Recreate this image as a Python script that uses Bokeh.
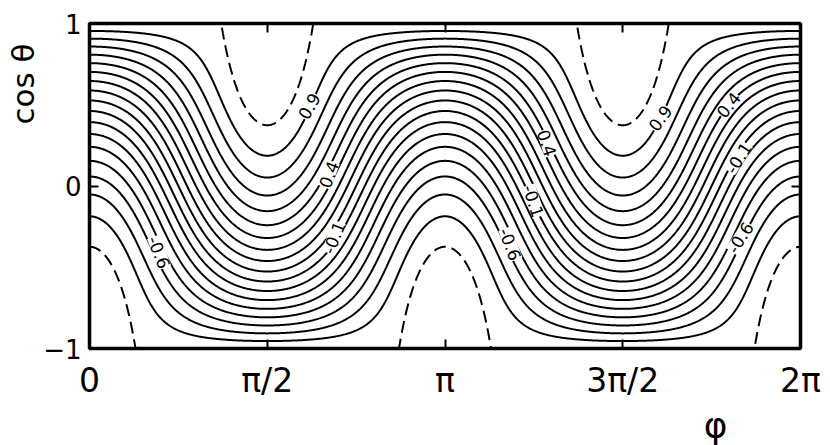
import numpy as np
from bokeh.plotting import figure
from bokeh.models import FixedTicker, LinearAxis, Label, Range1d, Title
from bokeh.embed import file_html
from bokeh.resources import INLINE

PI = np.pi

# contour levels of the plotted quantity
solid_levels = [-0.8, -0.7, -0.6, -0.5, -0.4, -0.3, -0.2, -0.1, 0.0,
                0.1, 0.2, 0.3, 0.4, 0.5, 0.6, 0.7, 0.8]
dashed_levels = [-0.9, 0.9]

# quantity mapped:  f = coef_a*cos(theta) + coef_b*sin^2(theta)*cos(2*phi)
coef_a = 0.9
coef_b = -0.655

# axis ticks
x_tick_values = [0, PI / 2, PI, 3 * PI / 2, 2 * PI]
x_tick_labels = ["0", "π/2", "π", "3π/2", "2π"]
y_tick_values = [-1, 0, 1]
y_tick_labels = ["−1", "0", "1"]

# inline contour labels (text, phi, cos theta, rotation)
label_texts = ["-0.6", "0.9", "0.4", "-0.1", "0.4", "-0.1", "-0.6", "0.9", "0.4", "-0.1", "-0.6"]
label_phi = [0.615, 1.941, 2.115, 2.159, 4.043, 3.925, 3.719, 5.042, 5.646, 5.735, 5.75]
label_cos = [-0.408, 0.492, 0.071, -0.317, 0.265, -0.092, -0.358, 0.418, 0.5, 0.173, -0.317]
label_angle = [-1.2, 1.05, 1.2, 1.2, -1.25, -1.25, -1.2, 0.95, 0.9, 1.0, 1.0]

FONT = "DejaVu Sans"

phi = np.linspace(0, 2 * PI, 901)
cth = np.linspace(-1, 1, 501)
PHI, CTH = np.meshgrid(phi, cth)
Z = coef_a * CTH + coef_b * (1 - CTH ** 2) * np.cos(2 * PHI)

p = figure(width=830, height=445, output_backend="svg", toolbar_location=None,
           x_range=Range1d(0, 2 * PI), y_range=Range1d(-1, 1),
           x_axis_type=None, y_axis_type=None,
           min_border_left=89, min_border_right=30, min_border_top=23, min_border_bottom=95)
p.grid.visible = False
p.outline_line_color = "black"
p.outline_line_width = 3.5
p.background_fill_color = "white"
p.border_fill_color = "white"

p.contour(phi, cth, Z, solid_levels, line_color="black", line_width=2.0)
p.contour(phi, cth, Z, dashed_levels, line_color="black", line_width=2.0, line_dash="12 6")


def make_axis(ticks, labels, show_labels, size):
    ax = LinearAxis(ticker=FixedTicker(ticks=ticks))
    ax.axis_line_color = None
    ax.major_tick_in = 9
    ax.major_tick_out = 0
    ax.major_tick_line_width = 2
    ax.major_tick_line_color = "black"
    ax.minor_tick_line_color = None
    ax.major_label_overrides = {float(t): l for t, l in zip(ticks, labels)}
    ax.major_label_text_font = FONT
    ax.major_label_text_color = "black"
    if show_labels:
        ax.major_label_text_font_size = size
    else:
        ax.major_label_text_font_size = "0px"
        ax.major_label_standoff = 0
    return ax


bottom = make_axis(x_tick_values, x_tick_labels, True, "33px")
bottom.major_label_standoff = 12
p.add_layout(bottom, "below")
top = make_axis(x_tick_values, ["" for _ in x_tick_labels], False, "0px")
p.add_layout(top, "above")
left = make_axis(y_tick_values, y_tick_labels, True, "26px")
left.major_label_standoff = 8
p.add_layout(left, "left")
right = make_axis([0], [""], False, "0px")
p.add_layout(right, "right")

for t, x, y, a in zip(label_texts, label_phi, label_cos, label_angle):
    p.add_layout(Label(x=x, y=y, text=t, angle=a, text_align="center", text_baseline="middle",
                       text_font=FONT, text_font_size="17px", text_color="black",
                       background_fill_color="white"))

ytitle = Title(text="cos θ", align="right", offset=20, standoff=0,
               text_font=FONT, text_font_size="31px", text_font_style="normal",
               text_color="black")
p.add_layout(ytitle, "left")
xtitle = Title(text="φ", align="right", offset=73, standoff=0,
               text_font=FONT, text_font_size="36px", text_font_style="normal",
               text_color="black")
p.add_layout(xtitle, "below")

open("out.html", "w").write(file_html(p, INLINE))
